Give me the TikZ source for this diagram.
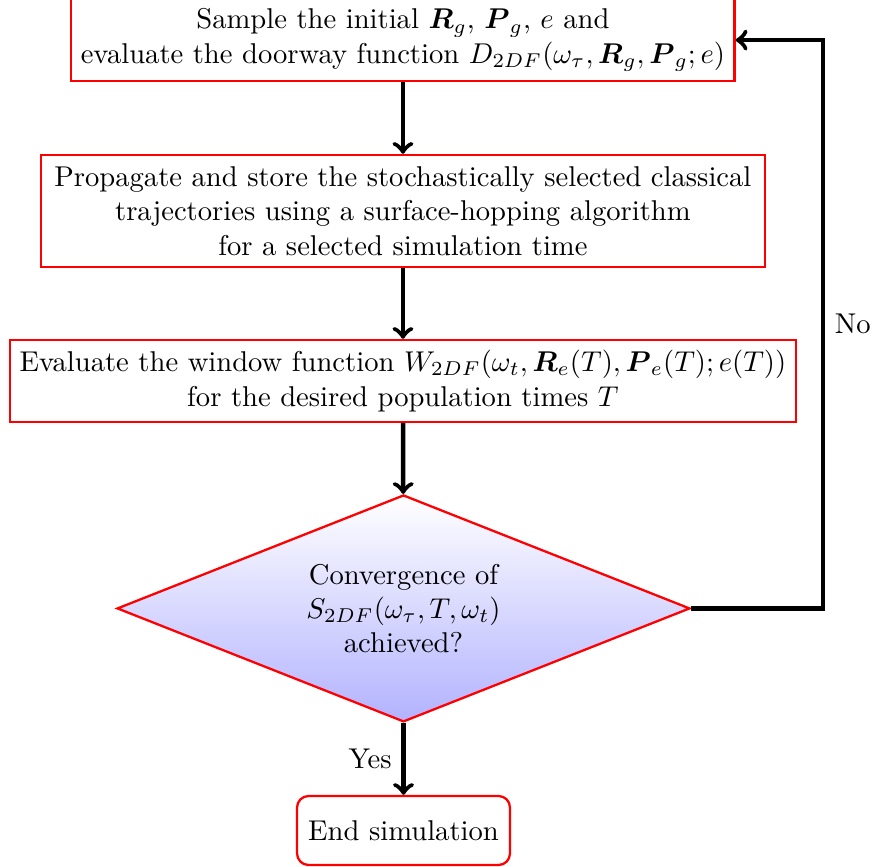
\documentclass[tikz,border=0pt]{standalone}
\usepackage{amsmath}
\usepackage{amssymb}
\usepackage{xcolor}
\usepackage{tikz}
\usetikzlibrary{positioning,arrows,shapes.geometric}
\tikzset{
  stepbox/.style={draw=red, thick, rectangle, align=center, inner sep=3.3pt},
  decision/.style={draw=red, thick, diamond, aspect=2.5, align=center, inner sep=0pt,
    top color=white, bottom color=blue!30},
  finish/.style={draw=red, thick, rectangle, rounded corners=4pt, align=center},
  flow/.style={->, ultra thick}
}
\newcommand{\Rv}{\boldsymbol{R}}
\newcommand{\Pv}{\boldsymbol{P}}

\begin{document}
\begin{tikzpicture}[x=1pt,y=1pt]
\useasboundingbox (0,0) rectangle (306.1,-302.9);
% the steps of the loop
\node[stepbox, minimum width=231pt, minimum height=27.9pt] (sample) at (140.8,-14)
  {Sample the initial $\Rv_g$, $\Pv_g$, $e$ and\\
   evaluate the doorway function $D_{2DF}(\omega_\tau,\Rv_g,\Pv_g;e)$};
\node[stepbox, minimum width=253pt, minimum height=39.1pt] (propagate) at (140.8,-73.7)
  {Propagate and store the stochastically selected classical\\
   trajectories using a surface-hopping algorithm\\
   for a selected simulation time};
\node[stepbox, minimum width=274.6pt, minimum height=28.6pt] (window) at (140.8,-133.1)
  {Evaluate the window function $W_{2DF}(\omega_t,\Rv_e(T),\Pv_e(T);e(T))$\\
   for the desired population times $T$};
\node[decision, minimum width=200.2pt, minimum height=79.3pt] (check) at (141,-212.6)
  {Convergence of\\ $S_{2DF}(\omega_\tau,T,\omega_t)$\\ achieved?};
\node[finish, minimum width=74.4pt, minimum height=24.1pt] (done) at (141,-290.2)
  {End simulation};
\coordinate (turn) at (287.6,-212.6);
% connectors
\draw[flow] (sample) -- (propagate);
\draw[flow] (propagate) -- (window);
\draw[flow] (window) -- (check);
\draw[flow] (check) -- node[left] {Yes} (done);
\draw[flow] (check.east) -- (turn) |- node[pos=0.25,right] {No} (sample.east);
\end{tikzpicture}
\end{document}
